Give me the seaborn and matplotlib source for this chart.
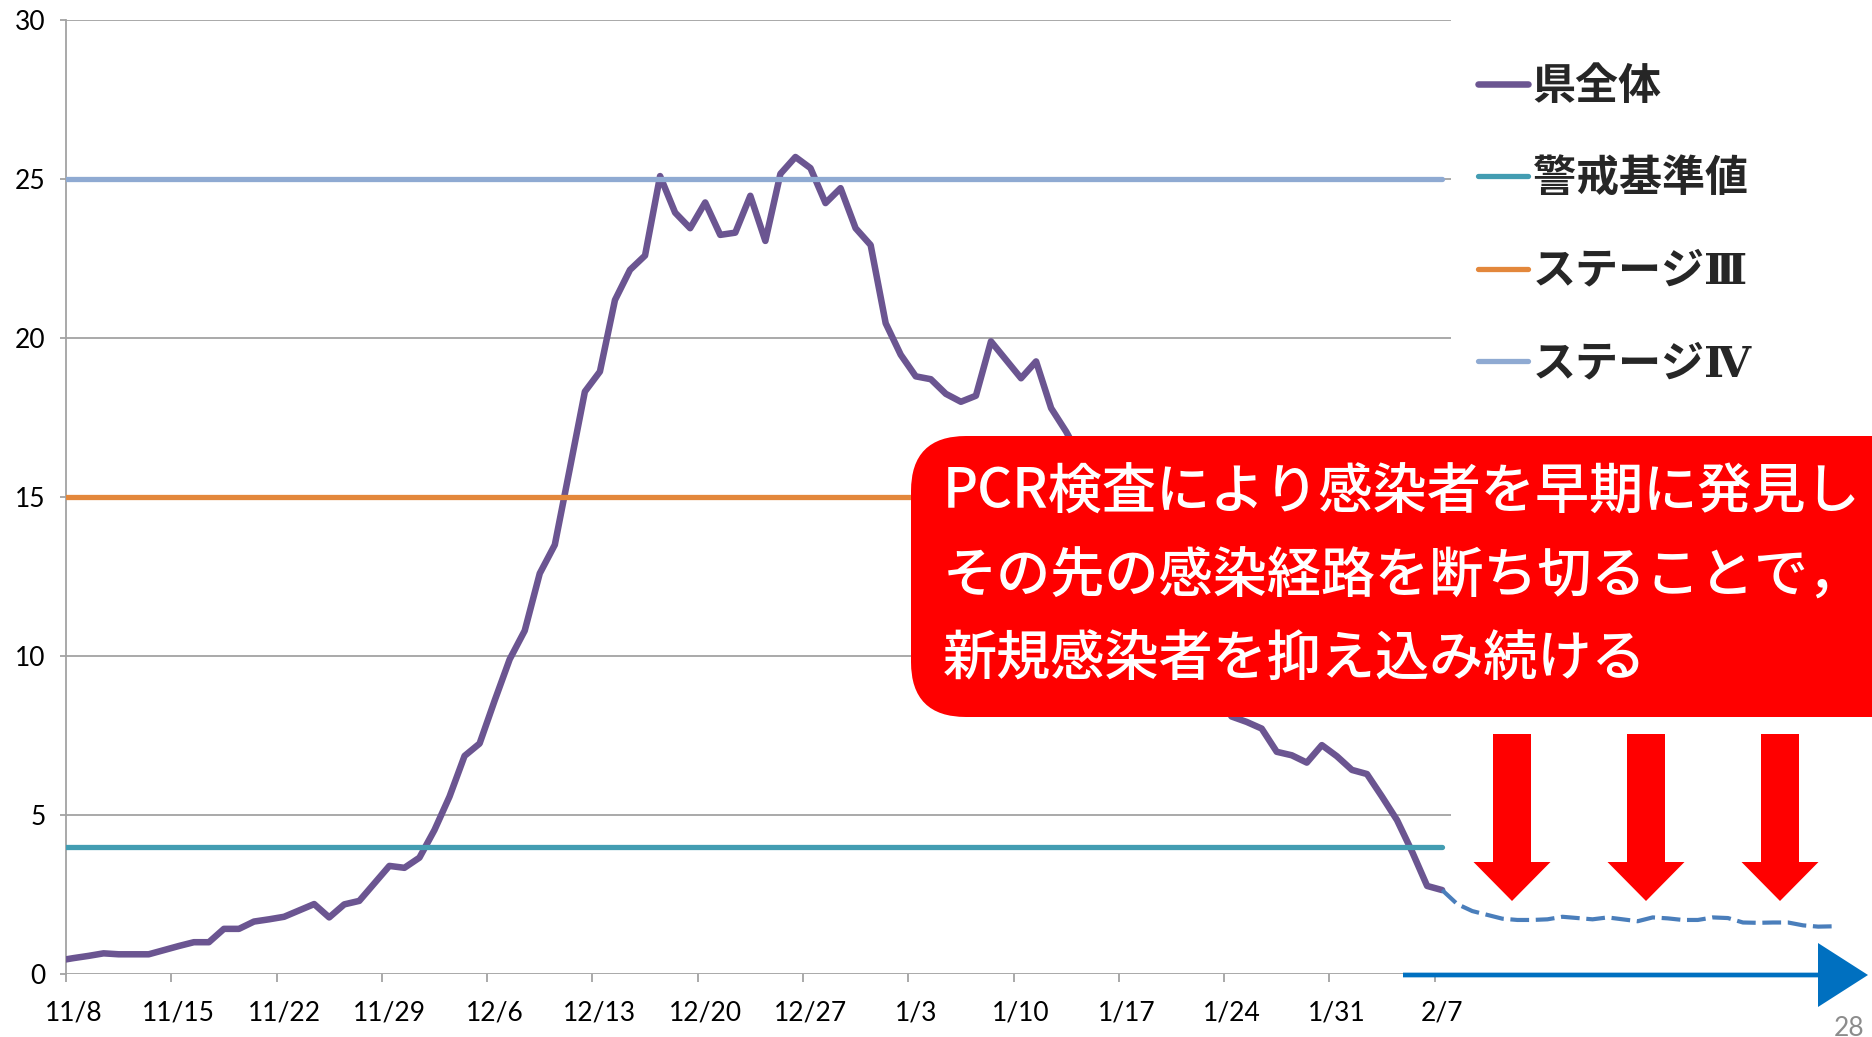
import numpy as np
import pandas as pd
import matplotlib
matplotlib.use('Agg')
import matplotlib.pyplot as plt
import seaborn as sns
from matplotlib.patches import FancyBboxPatch, FancyArrow

# 直近1週間の人口10万人当たり新規感染者数11/7 ～ 2/7
pref_start = '2020-11-07'
pref_end = '2021-02-07'
pref_values = [0.42, 0.5, 0.57, 0.65, 0.62, 0.62, 0.62, 0.75, 0.88, 1.0, 1.0,
               1.42, 1.42, 1.65, 1.72, 1.8, 2.0, 2.2, 1.78, 2.19, 2.3,
               2.85, 3.4, 3.34, 3.66, 4.53, 5.58, 6.86, 7.25, 8.6, 9.9,
               10.8, 12.6, 13.5, 15.9, 18.32, 18.95, 21.2, 22.15, 22.6, 25.1,
               23.95, 23.46, 24.27, 23.25, 23.32, 24.48, 23.06, 25.17, 25.7, 25.35,
               24.25, 24.72, 23.46, 22.93, 20.47, 19.48, 18.8, 18.71, 18.25, 18.0,
               18.19, 19.9, 19.32, 18.74, 19.27, 17.8, 17.06, 16.2, 15.3, 14.6,
               13.5, 12.9, 12.0, 11.2, 10.3, 9.6, 8.8, 8.1, 7.93, 7.72,
               6.99, 6.88, 6.65, 7.2, 6.85, 6.42, 6.29, 5.58, 4.84, 3.85,
               2.77, 2.64]

# 見通し（破線）2/7 ～ 3/5
proj_start = '2021-02-07'
proj_end = '2021-03-05'
proj_values = [2.64, 2.2, 1.98, 1.86, 1.74, 1.70, 1.70, 1.72, 1.80, 1.76,
               1.72, 1.78, 1.72, 1.66, 1.78, 1.75, 1.70, 1.70, 1.78, 1.76,
               1.62, 1.61, 1.62, 1.62, 1.53, 1.49, 1.5]

series_names = ['県全体', '警戒基準値', 'ステージⅢ', 'ステージⅣ']
threshold_values = [4, 15, 25]
series_colors = ['#6b5591', '#439db2', '#e3873b', '#8faad2']
proj_color = '#4a7ebb'

tick_labels = ['11/8', '11/15', '11/22', '11/29', '12/6', '12/13', '12/20',
               '12/27', '1/3', '1/10', '1/17', '1/24', '1/31', '2/7']
y_ticks = [0, 5, 10, 15, 20, 25, 30]

callout_lines = ['PCR検査により感染者を早期に発見し',
                 'その先の感染経路を断ち切ることで，',
                 '新規感染者を抑え込み続ける']
page_no = '28'

sns.set_style('white')
plt.rcParams['font.family'] = ['Lato', 'Noto Sans CJK JP', 'DejaVu Sans']

base = pd.Timestamp('2020-11-08')
dates = pd.date_range(pref_start, pref_end)
x = (dates - base).days.values + 0.5
proj_dates = pd.date_range(proj_start, proj_end)
xp = (proj_dates - base).days.values + 0.5
tick_dates = pd.date_range('2020-11-08', pref_end, freq='7D')
tick_pos = (tick_dates - base).days.values

W, H = 1872, 1037
fig = plt.figure(figsize=(W / 100, H / 100), dpi=100)
left_px, zero_px, top_px = 66, 974, 20.3
day_px = 15.04
ax = fig.add_axes([left_px / W, 1 - zero_px / H, 1 - left_px / W, (zero_px - top_px) / H])
x_max = (W - left_px) / day_px
grid_end = 92.1
ax.set_xlim(0, x_max)
ax.set_ylim(0, 30)

grid_col = '#a3a3a3'
ax.hlines(y_ticks, 0, grid_end, colors=grid_col, lw=1.3, zorder=1)

handles = []
sns.lineplot(x=x, y=pref_values, ax=ax, color=series_colors[0], lw=4.7,
             solid_capstyle='round', solid_joinstyle='round', legend=False, zorder=3)
handles.append(ax.lines[-1])
for val, col in zip(threshold_values, series_colors[1:]):
    sns.lineplot(x=x[1:], y=[val] * len(x[1:]), ax=ax, color=col, lw=3.8,
                 solid_capstyle='round', legend=False, zorder=4)
    handles.append(ax.lines[-1])
# the threshold lines start at the axis
for ln in handles[1:]:
    xd = ln.get_xdata()
    ln.set_xdata(np.concatenate([[0.0], xd]))
    ln.set_ydata(np.concatenate([[ln.get_ydata()[0]], ln.get_ydata()]))

sns.lineplot(x=xp, y=proj_values, ax=ax, color=proj_color, lw=3.0,
             linestyle=(0, (4.5, 1.6)), legend=False, zorder=3)

for s in ['top', 'right', 'bottom']:
    ax.spines[s].set_visible(False)
ax.spines['left'].set_color(grid_col)
ax.spines['left'].set_linewidth(1.3)

ax.set_yticks(y_ticks)
ax.set_yticklabels([str(v) for v in y_ticks], fontsize=19)
ax.tick_params(axis='y', length=4.5, width=1.3, color=grid_col, pad=10, labelcolor='black')
ax.set_xticks(tick_pos)
ax.set_xticklabels([])
ax.tick_params(axis='x', which='major', length=6, width=1.3, color=grid_col, direction='out')
ax.set_xticks(tick_pos + 0.5, minor=True)
ax.set_xticklabels(tick_labels, minor=True, fontsize=19)
ax.tick_params(axis='x', which='minor', length=0, pad=19, labelcolor='black')
ax.xaxis.set_ticks_position('bottom')
ax.yaxis.set_ticks_position('left')
ax.set_xlabel('')
ax.set_ylabel('')
ax.grid(False)

# serif roman numerals come from DejaVu Serif, everything else falls back to Noto CJK
leg = fig.legend(handles, series_names, loc='upper left', bbox_to_anchor=(1478 / W, 1 - 66 / H),
                 frameon=False,
                 prop={'family': ['DejaVu Serif', 'Noto Sans CJK JP'], 'size': 31, 'weight': 'bold'},
                 handlelength=1.15, handletextpad=0.12, labelspacing=1.17,
                 borderpad=0, borderaxespad=0)
for lh in leg.get_lines():
    lh.set_solid_capstyle('round')

# overlay in pixel coordinates for callout box and arrows
ov = fig.add_axes([0, 0, 1, 1])
ov.set_xlim(0, W)
ov.set_ylim(H, 0)
ov.axis('off')
ov.patch.set_alpha(0)

box = FancyBboxPatch((911, 436), 1050, 281, boxstyle='round,pad=0,rounding_size=55',
                     fc='#ff0000', ec='none', zorder=5)
ov.add_patch(box)
for k, line in enumerate(callout_lines):
    ov.text(943, 493 + k * 83.5, line, color='white', fontsize=39, ha='left', va='center',
            family=['Noto Sans CJK JP'], fontweight='medium', zorder=6)

for cx in [1512, 1646, 1780]:
    ov.add_patch(FancyArrow(cx, 734, 0, 167, width=38, head_width=77, head_length=39,
                            length_includes_head=True, fc='#ff0000', ec='none', zorder=5))

ov.add_patch(FancyArrow(1403, 975, 465, 0, width=4.7, head_width=64, head_length=50,
                        length_includes_head=True, fc='#0070c0', ec='none', zorder=5))

ov.text(1864, 1028, page_no, color='#8c8c8c', fontsize=19, ha='right', va='center', zorder=6)

fig.savefig('out.png', dpi=100)
